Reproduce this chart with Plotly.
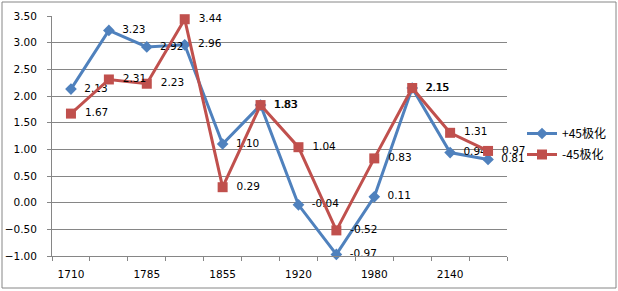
import plotly.graph_objects as go

x_labels = ["1710", "", "1785", "", "1855", "", "1920", "", "1980", "", "2140", ""]
plus45 = [2.13, 3.23, 2.92, 2.96, 1.10, 1.83, -0.04, -0.97, 0.11, 2.15, 0.94, 0.81]
minus45 = [1.67, 2.31, 2.23, 3.44, 0.29, 1.83, 1.04, -0.52, 0.83, 2.15, 1.31, 0.97]
series_names = ["+45极化", "-45极化"]

xs = list(range(len(x_labels)))
W, H = 618, 291
ml, mr, mt, mb = 52, 111, 16, 35
pw, ph = W - ml - mr, H - mt - mb

font_main = "DejaVu Sans, Verdana, sans-serif"
lbl_font = dict(family=font_main, size=10.5, color="#000000")

fig = go.Figure()
fig.add_trace(go.Scatter(
    x=xs, y=plus45, name=series_names[0], mode="lines+markers+text", legendgroup="a",
    line=dict(color="#4F81BD", width=3),
    marker=dict(symbol="diamond", size=9, color="#4F81BD"),
    text=["  " + f"{v:.2f}" for v in plus45], textposition="middle right",
    textfont=lbl_font, cliponaxis=False,
))
fig.add_trace(go.Scatter(
    x=xs, y=minus45, name=series_names[1], mode="lines+markers+text", legendgroup="b",
    line=dict(color="#C0504D", width=3),
    marker=dict(symbol="square", size=10, color="#C0504D"),
    text=["  " + f"{v:.2f}" for v in minus45], textposition="middle right",
    textfont=lbl_font, cliponaxis=False,
))

tickvals = [i for i, t in enumerate(x_labels) if t]
ticktext = [t for t in x_labels if t]

fig.update_layout(
    width=W, height=H,
    margin=dict(l=ml, r=mr, t=mt, b=mb, autoexpand=False),
    paper_bgcolor="white", plot_bgcolor="white",
    font=dict(family=font_main, size=10, color="#000000"),
    showlegend=True,
    legend=dict(x=(522 - ml) / pw, y=(H - mb - 144) / ph, xanchor="left", yanchor="middle",
                font=dict(family="Noto Sans CJK SC, DejaVu Sans, sans-serif", size=12),
                bgcolor="rgba(0,0,0,0)", tracegroupgap=2, itemwidth=30),
    xaxis=dict(
        range=[-0.5, len(xs) - 0.5], tickmode="array", tickvals=tickvals, ticktext=ticktext,
        ticks="", showgrid=False, zeroline=False, automargin=False,
        showline=True, linecolor="#868686", linewidth=1,
        minor=dict(tick0=-0.5, dtick=1, ticks="outside", ticklen=4, tickcolor="#868686", showgrid=False),
        tickfont=dict(family=font_main, size=10.5), ticklabelstandoff=8,
    ),
    yaxis=dict(
        range=[-1.0, 3.5], dtick=0.5, tick0=-1.0, tickformat=".2f",
        showgrid=True, gridcolor="#868686", gridwidth=1, zeroline=False, automargin=False,
        showline=True, linecolor="#868686", linewidth=1,
        ticks="outside", ticklen=4, tickcolor="#868686",
        tickfont=dict(family=font_main, size=10.5), ticklabelstandoff=8,
    ),
)

fig.add_shape(type="rect", xref="paper", yref="paper",
              x0=-(ml - 2) / pw, x1=1 + (mr - 2) / pw,
              y0=-(mb - 3) / ph, y1=1 + (mt - 2) / ph,
              line=dict(color="#868686", width=1), layer="above")

fig.write_html("out.html")
